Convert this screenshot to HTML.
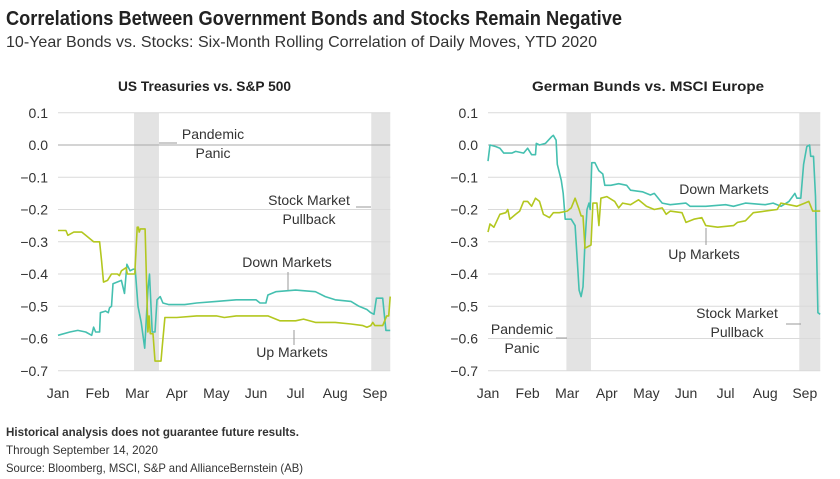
<!DOCTYPE html>
<html><head><meta charset="utf-8"><style>
body{margin:0;background:#fff}
svg{display:block;font-family:"Liberation Sans",sans-serif}
</style></head><body>
<svg id="c" width="840" height="479" viewBox="0 0 840 479">
<text x="6" y="25" font-size="20" font-weight="bold" fill="#222" textLength="616" lengthAdjust="spacingAndGlyphs">Correlations Between Government Bonds and Stocks Remain Negative</text>
<text x="6" y="47" font-size="16" fill="#333" textLength="591" lengthAdjust="spacingAndGlyphs">10-Year Bonds vs. Stocks: Six-Month Rolling Correlation of Daily Moves, YTD 2020</text>
<text x="118" y="91" font-size="14" font-weight="bold" fill="#222" textLength="173" lengthAdjust="spacingAndGlyphs">US Treasuries vs. S&amp;P 500</text>
<text x="532" y="91" font-size="14" font-weight="bold" fill="#222" textLength="232" lengthAdjust="spacingAndGlyphs">German Bunds vs. MSCI Europe</text>
<text x="6" y="436" font-size="12" font-weight="bold" fill="#333" textLength="293" lengthAdjust="spacingAndGlyphs">Historical analysis does not guarantee future results.</text>
<text x="6" y="454" font-size="12" fill="#333" textLength="152" lengthAdjust="spacingAndGlyphs">Through September 14, 2020</text>
<text x="6" y="472" font-size="12" fill="#333" textLength="297" lengthAdjust="spacingAndGlyphs">Source: Bloomberg, MSCI, S&amp;P and AllianceBernstein (AB)</text>
</svg>
<script>
const months = ["Jan","Feb","Mar","Apr","May","Jun","Jul","Aug","Sep"];
const yTicks = [0.1,0.0,-0.1,-0.2,-0.3,-0.4,-0.5,-0.6,-0.7];
const yTickLabels = ["0.1","0.0","\u22120.1","\u22120.2","\u22120.3","\u22120.4","\u22120.5","\u22120.6","\u22120.7"];
const shadeLeft = [[1.92,2.55],[7.91,8.39]];
const shadeRight = [[1.98,2.6],[7.86,8.39]];
// series: month position (fractional) and correlation value
const usDownX = [0,0.3,0.5,0.7,0.85,0.9,0.95,1.05,1.07,1.2,1.27,1.3,1.35,1.39,1.6,1.68,1.74,1.82,1.9,1.95,2.02,2.1,2.19,2.27,2.31,2.38,2.45,2.5,2.58,2.65,2.8,3.2,3.5,4.0,4.5,5.0,5.1,5.25,5.3,5.5,6.0,6.5,6.75,7.0,7.4,7.6,7.8,7.9,7.98,8.04,8.2,8.28,8.39];
const usDownY = [-0.59,-0.58,-0.575,-0.58,-0.59,-0.565,-0.58,-0.58,-0.52,-0.515,-0.52,-0.505,-0.5,-0.43,-0.42,-0.46,-0.37,-0.39,-0.385,-0.385,-0.5,-0.55,-0.63,-0.45,-0.4,-0.58,-0.58,-0.48,-0.47,-0.49,-0.495,-0.495,-0.49,-0.485,-0.48,-0.48,-0.49,-0.49,-0.465,-0.455,-0.45,-0.455,-0.47,-0.48,-0.485,-0.5,-0.51,-0.52,-0.525,-0.475,-0.475,-0.575,-0.575];
const usUpX = [0,0.2,0.25,0.4,0.6,0.7,0.9,1.05,1.1,1.15,1.25,1.35,1.5,1.55,1.6,1.72,1.75,1.94,2.0,2.03,2.05,2.08,2.2,2.27,2.3,2.33,2.4,2.45,2.6,2.63,2.7,3.0,3.5,4.0,4.2,4.5,5.0,5.3,5.6,6.0,6.2,6.5,7.0,7.4,7.7,7.8,7.9,7.95,8.0,8.2,8.3,8.35,8.39];
const usUpY = [-0.265,-0.265,-0.28,-0.27,-0.27,-0.28,-0.3,-0.3,-0.36,-0.425,-0.42,-0.4,-0.4,-0.405,-0.39,-0.38,-0.4,-0.4,-0.255,-0.255,-0.27,-0.26,-0.26,-0.58,-0.53,-0.585,-0.585,-0.67,-0.67,-0.63,-0.535,-0.535,-0.53,-0.53,-0.535,-0.53,-0.53,-0.53,-0.545,-0.545,-0.54,-0.55,-0.55,-0.555,-0.56,-0.565,-0.56,-0.55,-0.56,-0.56,-0.53,-0.53,-0.47];
const deDownX = [0,0.05,0.2,0.3,0.4,0.6,0.7,0.9,1.0,1.1,1.2,1.22,1.3,1.45,1.6,1.65,1.72,1.75,1.85,1.9,1.95,2.1,2.2,2.25,2.3,2.35,2.4,2.45,2.5,2.55,2.58,2.62,2.7,2.8,2.9,2.95,3.1,3.3,3.5,3.6,3.9,4.1,4.2,4.4,4.6,5.0,5.1,5.5,6.0,6.2,6.5,7.0,7.2,7.4,7.6,7.75,7.8,7.9,7.97,8.05,8.12,8.15,8.22,8.27,8.33,8.39];
const deDownY = [-0.05,0.0,-0.005,-0.01,-0.025,-0.025,-0.02,-0.025,-0.01,-0.03,-0.03,0.005,0.0,0.005,0.025,0.03,0.015,-0.06,-0.11,-0.15,-0.23,-0.23,-0.25,-0.35,-0.45,-0.47,-0.44,-0.3,-0.2,-0.18,-0.2,-0.055,-0.055,-0.08,-0.09,-0.125,-0.125,-0.12,-0.125,-0.14,-0.145,-0.155,-0.15,-0.18,-0.185,-0.18,-0.19,-0.19,-0.185,-0.19,-0.18,-0.185,-0.18,-0.19,-0.175,-0.15,-0.165,-0.165,-0.06,-0.005,0.0,-0.035,-0.035,-0.16,-0.52,-0.525];
const deUpX = [0,0.05,0.15,0.3,0.45,0.5,0.55,0.7,0.8,0.9,1.0,1.1,1.2,1.3,1.4,1.55,1.65,1.8,2.0,2.1,2.2,2.3,2.35,2.4,2.45,2.6,2.65,2.75,2.8,2.85,3.0,3.2,3.3,3.4,3.6,3.8,4.0,4.2,4.4,4.5,4.6,4.9,5.0,5.2,5.4,5.5,5.8,6.2,6.3,6.5,6.7,7.0,7.3,7.4,7.6,7.8,8.0,8.1,8.2,8.3,8.39];
const deUpY = [-0.27,-0.245,-0.255,-0.215,-0.21,-0.2,-0.23,-0.215,-0.205,-0.175,-0.175,-0.19,-0.165,-0.175,-0.215,-0.225,-0.21,-0.21,-0.205,-0.195,-0.165,-0.2,-0.22,-0.22,-0.32,-0.31,-0.18,-0.18,-0.25,-0.165,-0.16,-0.175,-0.195,-0.18,-0.185,-0.17,-0.19,-0.2,-0.195,-0.215,-0.205,-0.21,-0.24,-0.23,-0.225,-0.25,-0.255,-0.25,-0.24,-0.235,-0.21,-0.205,-0.2,-0.18,-0.185,-0.19,-0.18,-0.175,-0.205,-0.205,-0.205];

const NS="http://www.w3.org/2000/svg";
const svg=document.getElementById('c');
function mk(tag,attrs,parent){const e=document.createElementNS(NS,tag);for(const k in attrs)e.setAttribute(k,attrs[k]);(parent||svg).appendChild(e);return e;}
const TEAL="#45c0b0", GREEN="#b3c71f";
function panel(id,x0,shades,down,up,ann){
  const g=mk('g',{});
  
  
  const pw=39.6, xEnd=x0+8.39*pw;
  const X=m=>x0+m*pw;
  const Y=v=>145-v*322.5;
  shades.forEach(s=>{const r=mk('rect',{x:X(s[0]),y:Y(0.1),width:X(s[1])-X(s[0]),height:Y(-0.7)-Y(0.1),fill:"#e3e3e3"},g);
    
    });
  yTicks.forEach((v,i)=>{
    const l=mk('line',{x1:x0,x2:xEnd,y1:Y(v),y2:Y(v),stroke:v===0?"#aaa":"#dadada","stroke-width":1},g);
    
    
    const t=mk('text',{x:x0-10,y:Y(v)+5,"font-size":14,fill:"#333","text-anchor":"end"},g);
    t.textContent=yTickLabels[i];
    
    
  });
  months.forEach((m,i)=>{
    const t=mk('text',{x:X(i),y:Y(-0.7)+27,"font-size":14,fill:"#333","text-anchor":"middle"},g);
    t.textContent=m;
    
    
  });
  [[down,TEAL,'down-markets-line'],[up,GREEN,'up-markets-line']].forEach(([s,c,n])=>{
    const d=s[0].map((m,i)=>(i?'L':'M')+X(m).toFixed(1)+','+Y(s[1][i]).toFixed(1)).join('');
    const p=mk('path',{d:d,fill:"none",stroke:c,"stroke-width":1.6,"stroke-linejoin":"round"},g);
    
    
  });
  ann.forEach(a=>{
    a.t.forEach((txt,i)=>{const t=mk('text',{x:a.x,y:a.y+i*19,"font-size":14,fill:"#333","text-anchor":"middle"},g);
      t.textContent=txt;
      
      });
    const l=mk('line',{x1:a.l[0],y1:a.l[1],x2:a.l[2],y2:a.l[3],stroke:"#999","stroke-width":1},g);
    
    
  });
}
panel('us-treasuries',58,shadeLeft,[usDownX,usDownY],[usUpX,usUpY],[
  {t:["Pandemic","Panic"],x:213,y:139,l:[159,143,177,143]},
  {t:["Stock Market","Pullback"],x:309,y:205,l:[356,207,371,207]},
  {t:["Down Markets"],x:287,y:267,l:[288,272,288,290]},
  {t:["Up Markets"],x:292,y:357,l:[294,330,294,345]}
]);
panel('german-bunds',488,shadeRight,[deDownX,deDownY],[deUpX,deUpY],[
  {t:["Pandemic","Panic"],x:522,y:334,l:[556,338,567,338]},
  {t:["Stock Market","Pullback"],x:737,y:318,l:[786,324,801,324]},
  {t:["Down Markets"],x:724,y:194,l:[0,0,0,0]},
  {t:["Up Markets"],x:704,y:259,l:[706,228,706,245]}
]);
</script>
</body></html>
